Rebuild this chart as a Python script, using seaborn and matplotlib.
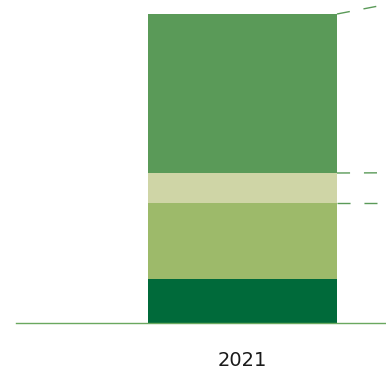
import matplotlib
matplotlib.use("Agg")
import matplotlib.pyplot as plt
import seaborn as sns
import numpy as np
import pandas as pd

# Data (units are arbitrary)
years = ["2021", "2022"]
seg_dark = [44, 45]
seg_light = [76, 75]
seg_pale = [30, 31]
seg_mid = [159, 209]

colors = {"dark": "#006a3a", "light": "#9dba6a", "pale": "#cfd5a6", "mid": "#5a9a58"}

sns.set_style("white")
fig = plt.figure(figsize=(3.86, 3.72), dpi=100)
ax = fig.add_axes([16 / 386, 49 / 372, 370 / 386, 323 / 372])

c1 = np.array(seg_dark, dtype=float)
c2 = c1 + np.array(seg_light)
c3 = c2 + np.array(seg_pale)
c4 = c3 + np.array(seg_mid)

bar_w = 189 / 453
layers = [(c4, colors["mid"]), (c3, colors["pale"]), (c2, colors["light"]), (c1, colors["dark"])]
for vals, col in layers:
    df = pd.DataFrame({"year": years, "value": vals})
    sns.barplot(data=df, x="year", y="value", color=col, width=bar_w,
                saturation=1, ax=ax, linewidth=0, edgecolor=col, errorbar=None)

# series lines between bars
for cum in [c2, c3, c4]:
    ax.plot([0 + bar_w / 2, 1 - bar_w / 2], [cum[0], cum[1]],
            color="#5a9a58", lw=1.0, linestyle=(0, (9.4, 10)))

ax.set_xlim(-0.5, -0.5 + 370 / 453)
ax.set_ylim(0, 323)
for s in ["top", "right", "left"]:
    ax.spines[s].set_visible(False)
ax.spines["bottom"].set_color("#6aa85f")
ax.spines["bottom"].set_linewidth(1.0)
ax.set_yticks([])
ax.set_xlabel("")
ax.set_ylabel("")
ax.tick_params(axis="x", length=0, pad=20, labelsize=14, labelcolor="#1a1a1a")

fig.savefig("out.png", dpi=100)
